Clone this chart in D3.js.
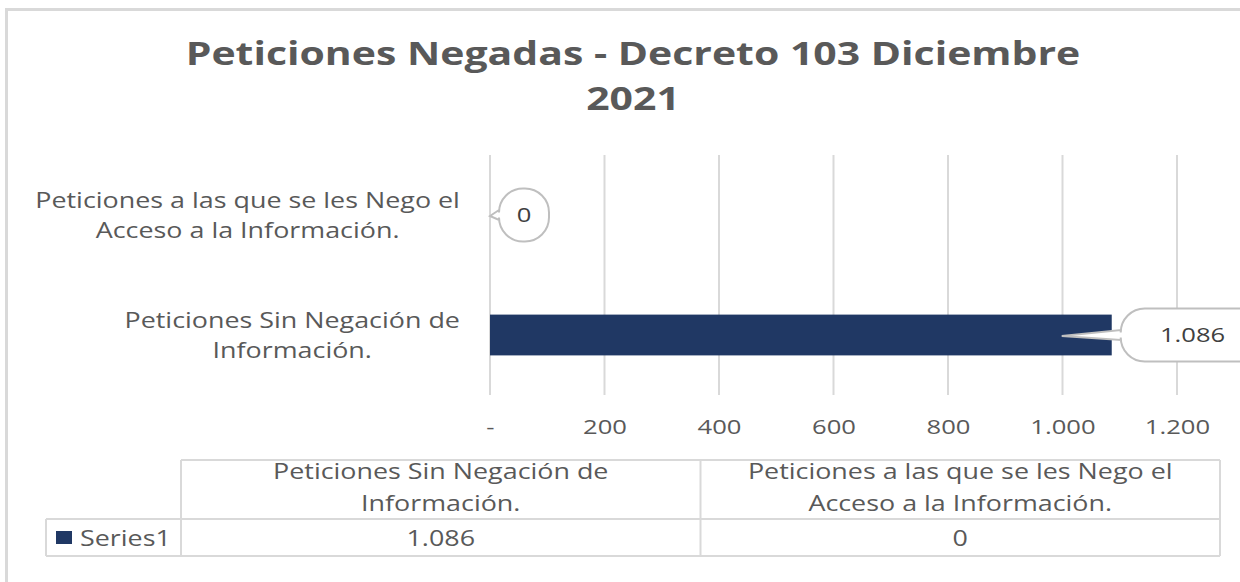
<!DOCTYPE html>
<html>
<head>
<meta charset="utf-8">
<script src="https://cdn.jsdelivr.net/npm/d3@7"></script>
<style>
  body { margin: 0; background: #fff; }
  svg { display: block; font-family: "Open Sans", sans-serif; }
</style>
</head>
<body>
<script>
// chart data
var titleLines = ["Peticiones Negadas - Decreto 103 Diciembre", "2021"];
var categories = ["Peticiones Sin Negación de Información.", "Peticiones a las que se les Nego el Acceso a la Información."];
var categoryLines = [["Peticiones Sin Negación de", "Información."], ["Peticiones a las que se les Nego el", "Acceso a la Información."]];
var values = [1086, 0];
var seriesName = "Series1";
var xTicks = [0, 200, 400, 600, 800, 1000, 1200];

var W = 1240, H = 582;
var grey = "#595959", lineCol = "#d9d9d9", barCol = "#203864";
var stretch = 1.28; // the original picture is stretched sideways

var svg = d3.select("body").append("svg")
    .attr("width", W)
    .attr("height", H);

// widen a text element around its anchor x
function widen(sel, ax) {
    sel.attr("transform", "translate(" + (ax * (1 - stretch)) + ",0) scale(" + stretch + ",1)");
}

// chart frame
svg.append("rect")
    .attr("x", 6.5).attr("y", 9.5)
    .attr("width", 1260).attr("height", 620)
    .attr("fill", "#fff")
    .attr("stroke", lineCol)
    .attr("stroke-width", 3);

// title
var title = svg.append("text")
    .attr("x", 633).attr("y", 65)
    .attr("text-anchor", "middle")
    .attr("font-size", 32).attr("font-weight", "bold")
    .attr("fill", grey);
title.selectAll("tspan")
    .data(titleLines)
    .enter().append("tspan")
    .attr("x", 633)
    .attr("dy", function (d, i) { return i == 0 ? 0 : 45; })
    .text(function (d) { return d; });
widen(title, 633);

// scales
var x = d3.scaleLinear().domain([0, 1200]).range([490, 1177]);
var y = d3.scaleBand().domain(categories.slice().reverse()).range([155, 395]);
var barH = y.bandwidth() * 0.34;

var fmt = d3.formatLocale({ decimal: ",", thousands: ".", grouping: [3], currency: ["", ""] }).format(",d");
var tickFmt = function (d) { return d === 0 ? "-" : fmt(d); };

// gridlines
svg.selectAll(".grid")
    .data(xTicks)
    .enter().append("line")
    .attr("class", "grid")
    .attr("x1", function (d) { return x(d); })
    .attr("x2", function (d) { return x(d); })
    .attr("y1", 155).attr("y2", 395)
    .attr("stroke", lineCol)
    .attr("stroke-width", 2);

// x axis labels
var xAxis = d3.axisBottom(x).tickValues(xTicks).tickFormat(tickFmt).tickSize(0).tickPadding(0);
var gx = svg.append("g")
    .attr("transform", "translate(0,420)")
    .call(xAxis);
gx.select(".domain").remove();
gx.selectAll("text")
    .attr("font-family", "Open Sans")
    .attr("font-size", 20)
    .attr("fill", grey)
    .attr("transform", "scale(" + stretch + ",1)");

// category labels: centred lines, block right-aligned to the axis
svg.selectAll(".cat")
    .data(categories)
    .enter().append("text")
    .attr("class", "cat")
    .attr("text-anchor", "middle")
    .attr("font-size", 21)
    .attr("fill", grey)
    .each(function (d, i) {
        var cy = y(d) + y.bandwidth() / 2;
        var sel = d3.select(this);
        var spans = sel.selectAll("tspan")
            .data(categoryLines[i])
            .enter().append("tspan")
            .attr("y", function (t, j) { return cy - 7 + j * 30; })
            .text(function (t) { return t; });
        var maxW = d3.max(spans.nodes(), function (n) { return n.getComputedTextLength(); }) * stretch;
        var cx = 460 - maxW / 2;
        spans.attr("x", cx);
        widen(sel, cx);
    });

// bars
svg.selectAll(".bar")
    .data(values)
    .enter().append("rect")
    .attr("class", "bar")
    .attr("x", x(0))
    .attr("y", function (d, i) { return y(categories[i]) + (y.bandwidth() - barH) / 2; })
    .attr("width", function (d) { return x(d) - x(0); })
    .attr("height", barH)
    .attr("fill", barCol);

// callout labels
function calloutPath(tx, ty, left, top, w, h, r) {
    var right = left + w, bottom = top + h, cy = top + h / 2;
    var p = d3.path();
    p.moveTo(tx, ty);
    p.lineTo(left, cy - 5);
    p.lineTo(left, top + r);
    p.arcTo(left, top, left + r, top, r);
    p.lineTo(right - r, top);
    p.arcTo(right, top, right, top + r, r);
    p.lineTo(right, bottom - r);
    p.arcTo(right, bottom, right - r, bottom, r);
    p.lineTo(left + r, bottom);
    p.arcTo(left, bottom, left, bottom - r, r);
    p.lineTo(left, cy + 5);
    p.closePath();
    return p.toString();
}

values.forEach(function (v, i) {
    var cy = y(categories[i]) + y.bandwidth() / 2;
    var g = svg.append("g");
    var t = g.append("text")
        .attr("font-size", 20)
        .attr("fill", "#404040")
        .attr("text-anchor", "middle")
        .text(fmt(v));
    var tw = t.node().getComputedTextLength() * stretch;
    var bw = Math.max(50, tw * 2.2), bh = 53;
    var left = x(v) + 9;
    var tipX = v > 0 ? x(v) - 50 : x(v);
    g.insert("path", "text")
        .attr("d", calloutPath(tipX, cy + 1, left, cy - bh / 2, bw, bh, 24))
        .attr("fill", "#fff")
        .attr("stroke", "#bfbfbf")
        .attr("stroke-width", 2);
    t.attr("x", left + bw / 2).attr("y", cy + 7);
    widen(t, left + bw / 2);
});

// data table
var tx = d3.scaleBand().domain(categories).range([181, 1220]);
var tableTop = 460, rowY = 519, tableBottom = 556, keyLeft = 46;
var tbl = svg.append("g")
    .attr("stroke", lineCol)
    .attr("stroke-width", 2);
tbl.append("line").attr("x1", 181).attr("x2", 1220).attr("y1", tableTop).attr("y2", tableTop);
tbl.append("line").attr("x1", keyLeft).attr("x2", 1220).attr("y1", rowY).attr("y2", rowY);
tbl.append("line").attr("x1", keyLeft).attr("x2", 1220).attr("y1", tableBottom).attr("y2", tableBottom);
tbl.append("line").attr("x1", keyLeft).attr("x2", keyLeft).attr("y1", rowY).attr("y2", tableBottom);
tbl.selectAll(".vline")
    .data([181].concat(categories.map(function (c) { return tx(c) + tx.bandwidth(); })))
    .enter().append("line")
    .attr("x1", function (d) { return d; })
    .attr("x2", function (d) { return d; })
    .attr("y1", tableTop).attr("y2", tableBottom);

// table headers
svg.selectAll(".head")
    .data(categories)
    .enter().append("text")
    .attr("class", "head")
    .attr("text-anchor", "middle")
    .attr("font-size", 21)
    .attr("fill", grey)
    .each(function (d, i) {
        var cx = tx(d) + tx.bandwidth() / 2;
        d3.select(this).selectAll("tspan")
            .data(categoryLines[i])
            .enter().append("tspan")
            .attr("x", cx)
            .attr("y", function (t, j) { return 479 + j * 32; })
            .text(function (t) { return t; });
        widen(d3.select(this), cx);
    });

// table values
svg.selectAll(".val")
    .data(values)
    .enter().append("text")
    .attr("class", "val")
    .attr("text-anchor", "middle")
    .attr("font-size", 21)
    .attr("fill", grey)
    .attr("x", function (d, i) { return tx(categories[i]) + tx.bandwidth() / 2; })
    .attr("y", 546)
    .text(function (d) { return fmt(d); })
    .each(function (d, i) { widen(d3.select(this), tx(categories[i]) + tx.bandwidth() / 2); });

// legend key
svg.append("rect")
    .attr("x", 56).attr("y", 531)
    .attr("width", 16).attr("height", 13)
    .attr("fill", barCol);
var key = svg.append("text")
    .attr("x", 80).attr("y", 546)
    .attr("font-size", 21)
    .attr("fill", grey)
    .text(seriesName);
widen(key, 80);
</script>
</body>
</html>
